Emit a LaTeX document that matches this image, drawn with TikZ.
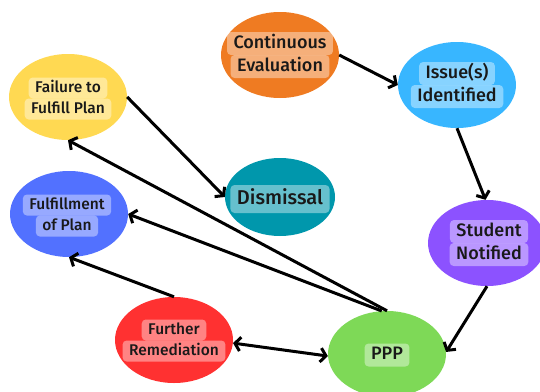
\documentclass[tikz,border=0pt]{standalone}
\usepackage{fontspec}
\setmainfont{Fira Sans}[BoldFont={Fira Sans Medium}]
\usetikzlibrary{shapes.geometric,arrows.meta}
\definecolor{cOrange}{HTML}{EF7B22}
\definecolor{cSky}{HTML}{38B6FF}
\definecolor{cYellow}{HTML}{FFD952}
\definecolor{cTeal}{HTML}{0097AC}
\definecolor{cBlue}{HTML}{5271FF}
\definecolor{cPurple}{HTML}{8C52FF}
\definecolor{cRed}{HTML}{FF3131}
\definecolor{cGreen}{HTML}{7ED957}
\tikzset{
  bub/.style={ellipse, minimum width=118pt, minimum height=86pt, inner sep=0pt, draw=none},
  lbl/.style={fill=white, fill opacity=0.4, text opacity=1, rounded corners=4pt,
    inner xsep=6.5pt, inner ysep=0pt, minimum height=23pt, text height=12.5pt, text depth=3pt,
    font=\fontsize{18}{20}\selectfont\bfseries, text=black!90},
  sml/.style={font=\fontsize{15.5}{17}\selectfont\bfseries, minimum height=21pt, text height=11pt, text depth=3pt},
  arr/.style={line width=3pt, -{Straight Barb[length=5.5pt,width=14pt,line width=3pt]}},
  darr/.style={line width=3pt, {Straight Barb[length=5.5pt,width=14pt,line width=3pt]}-{Straight Barb[length=5.5pt,width=14pt,line width=3pt]}}
}
\begin{document}
\begin{tikzpicture}[x=1pt,y=-1pt]
\useasboundingbox (0,0) rectangle (540,391);
% bubbles
\node[bub, fill=cOrange] (ce) at (280,55) {};
\node[bub, fill=cSky] (ii) at (457,85) {};
\node[bub, fill=cYellow] (ff) at (68,97) {};
\node[bub, fill=cTeal, minimum width=110pt, minimum height=78pt] (dm) at (280,197) {};
\node[bub, fill=cBlue] (fp) at (69,214) {};
\node[bub, fill=cPurple] (sn) at (487,243) {};
\node[bub, fill=cRed] (fr) at (174,340) {};
\node[bub, fill=cGreen] (pp) at (387,354) {};
% labels
\node[lbl] (ce1) at (280,43.5) {Continuous};
\node[lbl] (ce2) at (280,66.5) {Evaluation};
\node[lbl] (ii1) at (457,73.5) {Issue(s)};
\node[lbl] (ii2) at (457,96.5) {Identified};
\node[lbl, sml] (ff1) at (68,88) {Failure to};
\node[lbl, sml] (ff2) at (68,109) {Fulfill Plan};
\node[lbl, font=\fontsize{20}{22}\selectfont\bfseries, minimum height=28pt, text height=14pt] (dm1) at (280,199) {Dismissal};
\node[lbl, sml] (fp1) at (67,205) {Fulfillment};
\node[lbl, sml] (fp2) at (67,226) {of Plan};
\node[lbl] (sn1) at (489,231.5) {Student};
\node[lbl] (sn2) at (489,254.5) {Notified};
\node[lbl, sml] (fr1) at (174,330) {Further};
\node[lbl, sml] (fr2) at (174,351) {Remediation};
\node[lbl] (pp1) at (387,355) {PPP};
% arrows
\draw[arr] (ce.0) -- (ii.180);
\draw[arr] (ii.-90) -- (sn.92);
\draw[arr] (sn.-90) -- (pp.2);
\draw[arr] (pp.90) -- (ff.-90);
\draw[arr] (pp.97) -- (fp.0);
\draw[arr] (ff.0) -- (dm.180);
\draw[arr] (fr.90) -- (fp.-90);
\draw[darr] (fr.-3) -- (pp.182);
\end{tikzpicture}
\end{document}
